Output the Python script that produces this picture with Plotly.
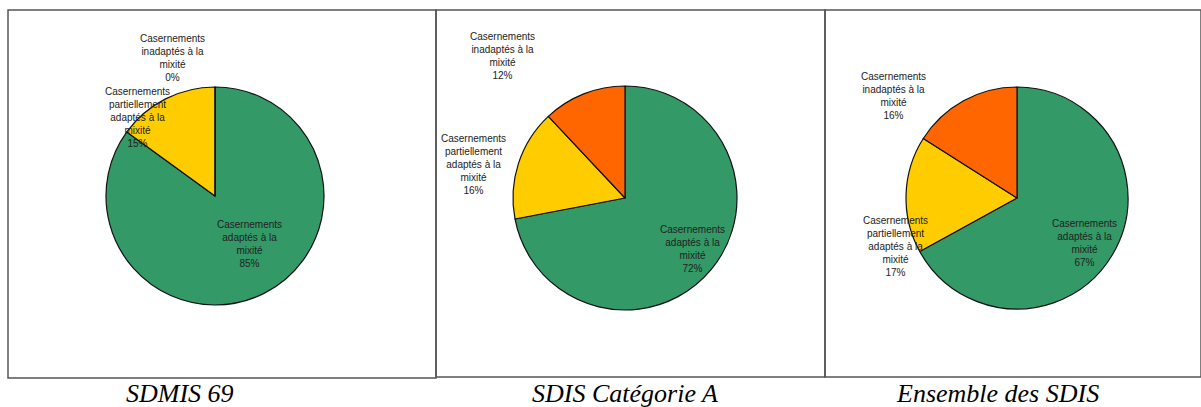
import plotly.graph_objects as go

W, H = 1201, 407

# Data
categories = [
    "Casernements<br>adaptés à la<br>mixité",
    "Casernements<br>partiellement<br>adaptés à la<br>mixité",
    "Casernements<br>inadaptés à la<br>mixité",
]
sdmis69 = [85, 15, 0]
sdis_cat_a = [72, 16, 12]
ensemble_sdis = [67, 17, 16]
panel_titles = ["SDMIS 69", "SDIS Catégorie A", "Ensemble des SDIS"]
series = [sdmis69, sdis_cat_a, ensemble_sdis]

colors = ["#339966", "#FFCC00", "#FF6600"]

# Layout geometry (pixels)
pie_centers = [(215, 196), (625, 198), (1017, 198)]
pie_radii = [109, 112, 111]
# label centres per panel, in category order
label_pos = [
    [(249, 244), (137, 117), (172, 58)],
    [(692, 249), (473, 164), (502, 56)],
    [(1084, 243), (895, 246), (893, 96)],
]
title_pos = [(180, 393), (625, 393), (997, 393)]
boxes = [(8, 10, 436, 378), (436, 10, 825, 377), (825, 10, 1201, 377)]


def px(x):
    return x / W


def py(y):
    return 1 - y / H


fig = go.Figure()
annotations = []
shapes = []

for i, vals in enumerate(series):
    cx, cy = pie_centers[i]
    r = pie_radii[i]
    fig.add_trace(go.Pie(
        values=vals,
        labels=[c.replace("<br>", " ") for c in categories],
        sort=False,
        direction="clockwise",
        rotation=0,
        marker=dict(colors=colors, line=dict(color="#111111", width=1.2)),
        textinfo="none",
        hoverinfo="label+percent",
        showlegend=False,
        domain=dict(x=[px(cx - r), px(cx + r)], y=[py(cy + r), py(cy - r)]),
    ))
    for j, v in enumerate(vals):
        lx, ly = label_pos[i][j]
        annotations.append(dict(
            x=px(lx), y=py(ly), xref="paper", yref="paper",
            text=f"{categories[j]}<br>{v}%",
            showarrow=False, xanchor="center", yanchor="middle",
            align="center",
            font=dict(family="Liberation Sans, Arial", size=10, color="#222222"),
        ))
    tx, ty = title_pos[i]
    annotations.append(dict(
        x=px(tx), y=py(ty), xref="paper", yref="paper",
        text=f"<i>{panel_titles[i]}</i>",
        showarrow=False, xanchor="center", yanchor="middle",
        font=dict(family="Liberation Serif", size=26, color="#000000"),
    ))

for (x0, y0, x1, y1) in boxes:
    shapes.append(dict(
        type="rect", xref="paper", yref="paper",
        x0=px(x0), x1=px(x1), y0=py(y1), y1=py(y0),
        line=dict(color="#555555", width=1.5), fillcolor="rgba(0,0,0,0)",
    ))

fig.update_layout(
    width=W, height=H,
    margin=dict(l=0, r=0, t=0, b=0),
    paper_bgcolor="white", plot_bgcolor="white",
    annotations=annotations, shapes=shapes,
)

fig.write_html("out.html")
